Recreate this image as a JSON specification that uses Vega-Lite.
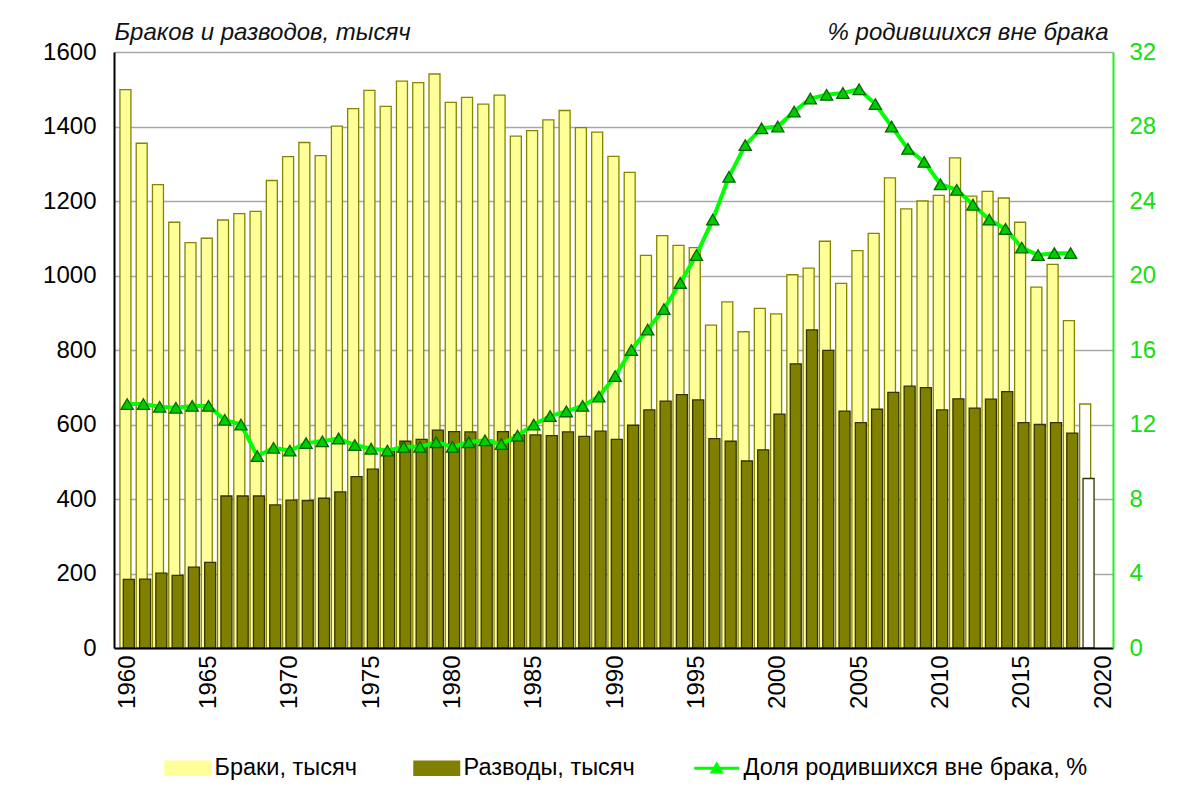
{
  "$schema": "https://vega.github.io/schema/vega-lite/v6.json",
  "width": 999,
  "height": 596,
  "autosize": "none",
  "padding": {"left": 114, "top": 52, "right": 87, "bottom": 158},
  "background": "white",
  "config": {"font": "Liberation Sans", "view": {"stroke": null}},
  "data": {"values": [
    {"year": 1960, "marriages": 1499, "divorces": 184, "share": 13.1},
    {"year": 1961, "marriages": 1355, "divorces": 185, "share": 13.1},
    {"year": 1962, "marriages": 1244, "divorces": 201, "share": 12.95},
    {"year": 1963, "marriages": 1143, "divorces": 195, "share": 12.9},
    {"year": 1964, "marriages": 1088, "divorces": 217, "share": 13.0},
    {"year": 1965, "marriages": 1100, "divorces": 230, "share": 13.0},
    {"year": 1966, "marriages": 1149, "divorces": 408, "share": 12.25},
    {"year": 1967, "marriages": 1166, "divorces": 408, "share": 12.0},
    {"year": 1968, "marriages": 1172, "divorces": 408, "share": 10.3},
    {"year": 1969, "marriages": 1255, "divorces": 384, "share": 10.75},
    {"year": 1970, "marriages": 1319, "divorces": 397, "share": 10.6},
    {"year": 1971, "marriages": 1357, "divorces": 396, "share": 11.0},
    {"year": 1972, "marriages": 1322, "divorces": 402, "share": 11.1},
    {"year": 1973, "marriages": 1401, "divorces": 419, "share": 11.25},
    {"year": 1974, "marriages": 1448, "divorces": 460, "share": 10.9},
    {"year": 1975, "marriages": 1497, "divorces": 480, "share": 10.7},
    {"year": 1976, "marriages": 1454, "divorces": 528, "share": 10.6},
    {"year": 1977, "marriages": 1522, "divorces": 555, "share": 10.8},
    {"year": 1978, "marriages": 1518, "divorces": 560, "share": 10.8},
    {"year": 1979, "marriages": 1541, "divorces": 585, "share": 11.05},
    {"year": 1980, "marriages": 1465, "divorces": 581, "share": 10.8},
    {"year": 1981, "marriages": 1478, "divorces": 580, "share": 11.05},
    {"year": 1982, "marriages": 1460, "divorces": 558, "share": 11.15},
    {"year": 1983, "marriages": 1484, "divorces": 581, "share": 10.95},
    {"year": 1984, "marriages": 1374, "divorces": 572, "share": 11.4},
    {"year": 1985, "marriages": 1389, "divorces": 572, "share": 12.0},
    {"year": 1986, "marriages": 1418, "divorces": 570, "share": 12.45},
    {"year": 1987, "marriages": 1443, "divorces": 580, "share": 12.7},
    {"year": 1988, "marriages": 1397, "divorces": 568, "share": 13.0},
    {"year": 1989, "marriages": 1385, "divorces": 582, "share": 13.5},
    {"year": 1990, "marriages": 1320, "divorces": 560, "share": 14.6},
    {"year": 1991, "marriages": 1277, "divorces": 598, "share": 16.0},
    {"year": 1992, "marriages": 1054, "divorces": 639, "share": 17.1},
    {"year": 1993, "marriages": 1107, "divorces": 663, "share": 18.2},
    {"year": 1994, "marriages": 1081, "divorces": 680, "share": 19.6},
    {"year": 1995, "marriages": 1075, "divorces": 666, "share": 21.1},
    {"year": 1996, "marriages": 867, "divorces": 562, "share": 23.0},
    {"year": 1997, "marriages": 929, "divorces": 555, "share": 25.3},
    {"year": 1998, "marriages": 849, "divorces": 502, "share": 27.0},
    {"year": 1999, "marriages": 912, "divorces": 532, "share": 27.9},
    {"year": 2000, "marriages": 897, "divorces": 628, "share": 28.0},
    {"year": 2001, "marriages": 1002, "divorces": 763, "share": 28.8},
    {"year": 2002, "marriages": 1020, "divorces": 854, "share": 29.5},
    {"year": 2003, "marriages": 1092, "divorces": 799, "share": 29.7},
    {"year": 2004, "marriages": 979, "divorces": 636, "share": 29.8},
    {"year": 2005, "marriages": 1067, "divorces": 605, "share": 30.0},
    {"year": 2006, "marriages": 1113, "divorces": 641, "share": 29.2},
    {"year": 2007, "marriages": 1262, "divorces": 686, "share": 28.0},
    {"year": 2008, "marriages": 1179, "divorces": 703, "share": 26.8},
    {"year": 2009, "marriages": 1200, "divorces": 699, "share": 26.1},
    {"year": 2010, "marriages": 1215, "divorces": 639, "share": 24.9},
    {"year": 2011, "marriages": 1316, "divorces": 669, "share": 24.6},
    {"year": 2012, "marriages": 1213, "divorces": 644, "share": 23.8},
    {"year": 2013, "marriages": 1226, "divorces": 668, "share": 23.0},
    {"year": 2014, "marriages": 1208, "divorces": 688, "share": 22.5},
    {"year": 2015, "marriages": 1143, "divorces": 605, "share": 21.5},
    {"year": 2016, "marriages": 969, "divorces": 600, "share": 21.1},
    {"year": 2017, "marriages": 1030, "divorces": 605, "share": 21.2},
    {"year": 2018, "marriages": 879, "divorces": 577, "share": 21.2},
    {"year": 2019, "marriages": 655, "divorces": 455, "share": null}
  ]},
  "encoding": {
    "x": {
      "field": "year", "type": "quantitative",
      "scale": {"domain": [1959.5, 2020.3], "nice": false, "zero": false},
      "axis": {
        "values": [1960, 1965, 1970, 1975, 1980, 1985, 1990, 1995, 2000, 2005, 2010, 2015, 2020],
        "format": "d", "labelAngle": -90, "labelAlign": "right", "labelBaseline": "middle",
        "labelFontSize": 24, "labelColor": "black", "labelPadding": 7,
        "labelFlush": false, "labelOverlap": false,
        "domainColor": "black", "domainWidth": 2, "ticks": false, "grid": false,
        "title": null, "zindex": 1
      }
    }
  },
  "layer": [
    {
      "layer": [
        {
          "mark": {"type": "bar", "width": 11, "xOffset": -1.7, "stroke": "#858500", "strokeWidth": 1.3},
          "encoding": {
            "y": {
              "field": "marriages", "type": "quantitative",
              "scale": {"domain": [0, 1600], "nice": false},
              "axis": {
                "values": [0, 200, 400, 600, 800, 1000, 1200, 1400, 1600],
                "format": "d",
                "domainColor": "black", "domainWidth": 2, "ticks": false,
                "grid": true, "gridColor": "#a8a8a8", "gridWidth": 1.5,
                "labelPadding": 18, "labelFontSize": 24, "labelColor": "black",
                "title": "Браков и разводов, тысяч", "titleAngle": 0, "titleAlign": "left",
                "titleBaseline": "alphabetic", "titleX": 0, "titleY": -13,
                "titleFontStyle": "italic", "titleFontWeight": "normal", "titleFontSize": 24,
                "titleColor": "#111111"
              }
            },
            "fill": {"condition": {"test": "datum.year === 2019", "value": "#ffffff"}, "value": "#ffff99"}
          }
        },
        {
          "mark": {"type": "bar", "width": 11, "xOffset": 1.7, "stroke": "#333300", "strokeWidth": 1.3},
          "encoding": {
            "y": {"field": "divorces", "type": "quantitative"},
            "fill": {"condition": {"test": "datum.year === 2019", "value": "#ffffff"}, "value": "#808000"}
          }
        }
      ]
    },
    {
      "layer": [
        {
          "mark": {"type": "line", "strokeWidth": 4},
          "encoding": {
            "y": {
              "field": "share", "type": "quantitative",
              "scale": {"domain": [0, 32], "nice": false},
              "axis": {
                "orient": "right",
                "values": [0, 4, 8, 12, 16, 20, 24, 28, 32],
                "domainColor": "#22ee22", "domainWidth": 2, "ticks": false, "grid": false,
                "labelPadding": 16, "labelFontSize": 24, "labelColor": "#11e011",
                "title": "% родившихся вне брака", "titleAngle": 0, "titleAlign": "right",
                "titleBaseline": "alphabetic", "titleX": -5, "titleY": -13,
                "titleFontStyle": "italic", "titleFontWeight": "normal", "titleFontSize": 24,
                "titleColor": "#111111", "zindex": 1
              }
            },
            "color": {
              "datum": "Доля родившихся вне брака, %",
              "scale": {
                "domain": ["Браки, тысяч", "Разводы, тысяч", "Доля родившихся вне брака, %"],
                "range": ["#ffff99", "#808000", "#00ff00"]
              },
              "legend": {
                "orient": "none", "legendX": 62, "legendY": 704, "direction": "horizontal",
                "title": null, "padding": 0, "symbolSize": 2025, "labelFontSize": 23.5,
                "labelColor": "black", "labelLimit": 500, "labelOffset": 15, "columnPadding": 53,
                "symbolStrokeWidth": 2,
                "encode": {
                  "symbols": {
                    "update": {
                      "shape": {"signal": "datum.value === 'Доля родившихся вне брака, %' ? 'M-1,0H1M-0.2,0.17L0,-0.17L0.2,0.17Z' : 'M-1,-0.3H1V0.3H-1Z'"},
                      "fill": {"signal": "datum.value === 'Браки, тысяч' ? '#ffff99' : datum.value === 'Разводы, тысяч' ? '#808000' : '#00bb00'"},
                      "stroke": {"signal": "datum.value === 'Браки, тысяч' ? '#6e6e00' : datum.value === 'Разводы, тысяч' ? '#2a2a00' : '#00ff00'"},
                      "strokeWidth": {"signal": "datum.value === 'Доля родившихся вне брака, %' ? 3 : 2"},
                      "opacity": {"value": 1},
                      "fillOpacity": {"value": 1},
                      "strokeOpacity": {"value": 1}
                    }
                  }
                }
              }
            }
          }
        },
        {
          "mark": {"type": "point", "shape": "triangle-up", "filled": true, "fill": "#00cc00", "stroke": "#006600", "strokeWidth": 1.3, "size": 150, "opacity": 1},
          "encoding": {
            "y": {"field": "share", "type": "quantitative"}
          }
        }
      ]
    }
  ],
  "resolve": {"scale": {"y": "independent"}, "axis": {"y": "independent"}}
}
